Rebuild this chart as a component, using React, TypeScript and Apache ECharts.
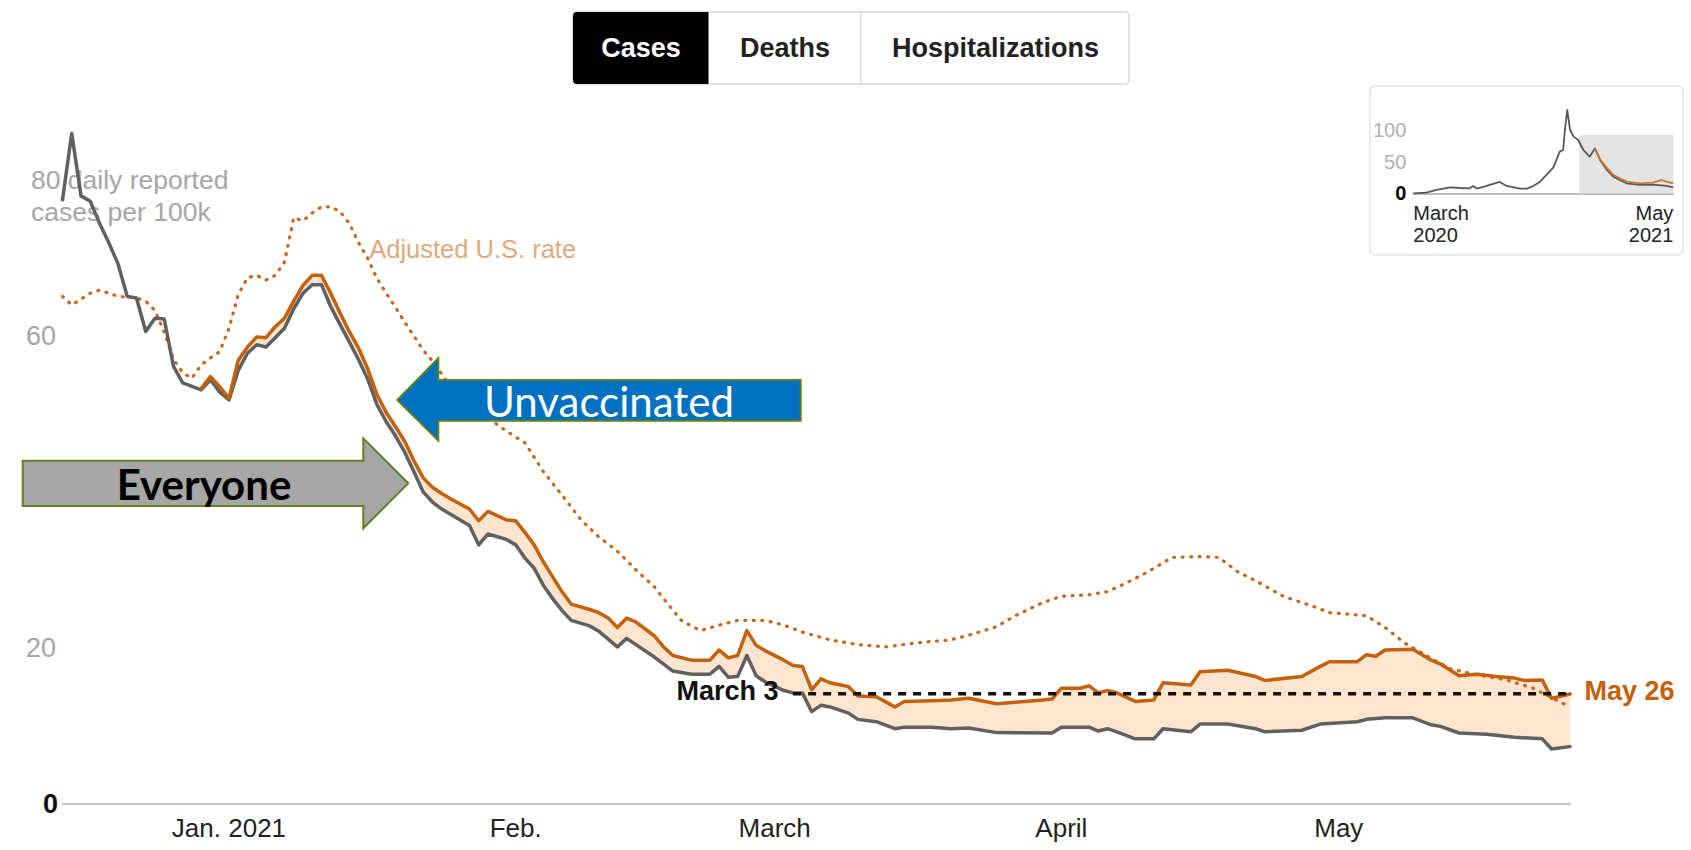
import React, { useEffect, useRef } from 'react';
import * as echarts from 'echarts';

// ---------- data ----------
const START = '2020-12-14';
const END = '2021-05-26';
const INSET_START = '2020-03-01';
const INSET_END = '2021-05-26';

const monthTicks = ['2021-01-01', '2021-02-01', '2021-03-01', '2021-04-01', '2021-05-01'];
const monthLabels = ['Jan. 2021', 'Feb.', 'March', 'April', 'May'];
const yTicks = [0, 20, 40, 60, 80];
const insetYTicks = [0, 50, 100];
const insetXLabels = ['March\n2020', 'May\n2021'];

// "Everyone" (all residents) daily reported cases per 100k
const everyone: [string, number][] = [
  ['2020-12-14', 77.5], ['2020-12-15', 86], ['2020-12-16', 78], ['2020-12-17', 77.3],
  ['2020-12-18', 74.5], ['2020-12-19', 72], ['2020-12-20', 69.3], ['2020-12-21', 65.1],
  ['2020-12-22', 64.9], ['2020-12-23', 60.6], ['2020-12-24', 62.3], ['2020-12-25', 62.2],
  ['2020-12-26', 56.1], ['2020-12-27', 54], ['2020-12-29', 53.1], ['2020-12-30', 54.4],
  ['2020-12-31', 52.8], ['2021-01-01', 51.8], ['2021-01-02', 55.6], ['2021-01-03', 57.8],
  ['2021-01-04', 58.9], ['2021-01-05', 58.6], ['2021-01-06', 59.8], ['2021-01-07', 61],
  ['2021-01-08', 63.5], ['2021-01-09', 65.5], ['2021-01-10', 66.6], ['2021-01-11', 66.6],
  ['2021-01-12', 63.8], ['2021-01-13', 61.5], ['2021-01-14', 59.3], ['2021-01-15', 57],
  ['2021-01-16', 54.5], ['2021-01-17', 51.2], ['2021-01-18', 49], ['2021-01-19', 47.2],
  ['2021-01-20', 45.1], ['2021-01-21', 42.6], ['2021-01-22', 40], ['2021-01-23', 38.7],
  ['2021-01-24', 37.8], ['2021-01-25', 37.1], ['2021-01-27', 35.7], ['2021-01-28', 33.2],
  ['2021-01-29', 34.6], ['2021-01-31', 33.9], ['2021-02-01', 33.2], ['2021-02-02', 31.5],
  ['2021-02-03', 30.2], ['2021-02-04', 28], ['2021-02-05', 26.3], ['2021-02-06', 24.8],
  ['2021-02-07', 23.5], ['2021-02-09', 22.8], ['2021-02-10', 22.1], ['2021-02-11', 21.1],
  ['2021-02-12', 20.1], ['2021-02-13', 21.2], ['2021-02-14', 20.4], ['2021-02-16', 18.8],
  ['2021-02-17', 17.9], ['2021-02-18', 17], ['2021-02-20', 16.6], ['2021-02-22', 16.6],
  ['2021-02-23', 17.6], ['2021-02-24', 16.2], ['2021-02-25', 16.3], ['2021-02-26', 19],
  ['2021-02-27', 16.4], ['2021-02-28', 15.6], ['2021-03-02', 14.5], ['2021-03-03', 14.2],
  ['2021-03-04', 14.2], ['2021-03-05', 11.8], ['2021-03-06', 12.6], ['2021-03-07', 12.4],
  ['2021-03-09', 11.6], ['2021-03-10', 10.8], ['2021-03-12', 10.5], ['2021-03-14', 9.6],
  ['2021-03-15', 9.8], ['2021-03-18', 9.8], ['2021-03-20', 9.6], ['2021-03-22', 9.7],
  ['2021-03-25', 9.1], ['2021-03-31', 9.05], ['2021-04-01', 9.8], ['2021-04-04', 9.8],
  ['2021-04-05', 9.3], ['2021-04-06', 9.6], ['2021-04-07', 9.2], ['2021-04-09', 8.3],
  ['2021-04-11', 8.3], ['2021-04-12', 9.6], ['2021-04-15', 9.2], ['2021-04-16', 10.2],
  ['2021-04-19', 10.2], ['2021-04-22', 9.6], ['2021-04-23', 9.2], ['2021-04-27', 9.4],
  ['2021-04-29', 10.2], ['2021-05-03', 10.5], ['2021-05-04', 10.8], ['2021-05-06', 11],
  ['2021-05-09', 11], ['2021-05-11', 10.1], ['2021-05-12', 9.9], ['2021-05-14', 9.05],
  ['2021-05-17', 8.9], ['2021-05-20', 8.5], ['2021-05-23', 8.3], ['2021-05-24', 7],
  ['2021-05-26', 7.3],
];

// Unvaccinated residents
const unvaccinated: [string, number][] = [
  ['2020-12-29', 53.3], ['2020-12-30', 54.8], ['2020-12-31', 53.5], ['2021-01-01', 52],
  ['2021-01-02', 56.9], ['2021-01-03', 58.6], ['2021-01-04', 59.9], ['2021-01-05', 59.8],
  ['2021-01-06', 61.2], ['2021-01-07', 62.3], ['2021-01-08', 64.5], ['2021-01-09', 66.5],
  ['2021-01-10', 67.8], ['2021-01-11', 67.8], ['2021-01-12', 65.5], ['2021-01-13', 63],
  ['2021-01-14', 60.6], ['2021-01-15', 58.5], ['2021-01-16', 55.8], ['2021-01-17', 52.5],
  ['2021-01-18', 50.2], ['2021-01-19', 48.4], ['2021-01-20', 46.5], ['2021-01-21', 44],
  ['2021-01-22', 41.8], ['2021-01-23', 40.6], ['2021-01-24', 39.8], ['2021-01-25', 39.1],
  ['2021-01-27', 37.8], ['2021-01-28', 36.3], ['2021-01-29', 37.5], ['2021-01-31', 36.4],
  ['2021-02-01', 36.3], ['2021-02-02', 34.8], ['2021-02-03', 33.2], ['2021-02-04', 31],
  ['2021-02-05', 29.1], ['2021-02-06', 27.2], ['2021-02-07', 25.6], ['2021-02-09', 24.9],
  ['2021-02-10', 24.5], ['2021-02-11', 23.8], ['2021-02-12', 22.6], ['2021-02-13', 23.8],
  ['2021-02-14', 23.3], ['2021-02-16', 21.5], ['2021-02-17', 20.1], ['2021-02-18', 19],
  ['2021-02-20', 18.4], ['2021-02-22', 18.4], ['2021-02-23', 19.7], ['2021-02-24', 18.7],
  ['2021-02-25', 19], ['2021-02-26', 22.2], ['2021-02-27', 20.3], ['2021-02-28', 19.6],
  ['2021-03-02', 18.4], ['2021-03-03', 17.7], ['2021-03-04', 17.6], ['2021-03-05', 14.6],
  ['2021-03-06', 16], ['2021-03-07', 15.5], ['2021-03-09', 15], ['2021-03-10', 13.8],
  ['2021-03-12', 13.7], ['2021-03-14', 12.4], ['2021-03-15', 13.1], ['2021-03-18', 13.2],
  ['2021-03-20', 13.3], ['2021-03-22', 13.5], ['2021-03-25', 12.8], ['2021-03-28', 13.1],
  ['2021-03-30', 13.3], ['2021-03-31', 13.4], ['2021-04-01', 14.8], ['2021-04-03', 14.8],
  ['2021-04-04', 15.1], ['2021-04-05', 14.2], ['2021-04-06', 14.5], ['2021-04-07', 14.2],
  ['2021-04-09', 13.1], ['2021-04-11', 13.3], ['2021-04-12', 15.5], ['2021-04-15', 15.2],
  ['2021-04-16', 16.9], ['2021-04-19', 17.1], ['2021-04-22', 16.3], ['2021-04-23', 15.8],
  ['2021-04-27', 16.3], ['2021-04-29', 17.6], ['2021-04-30', 18.2], ['2021-05-03', 18.2],
  ['2021-05-04', 19.1], ['2021-05-05', 18.9], ['2021-05-06', 19.7], ['2021-05-09', 19.8],
  ['2021-05-11', 18.4], ['2021-05-12', 17.9], ['2021-05-14', 16.4], ['2021-05-16', 16.6],
  ['2021-05-18', 16.3], ['2021-05-20', 16.1], ['2021-05-21', 15.8], ['2021-05-23', 15.85],
  ['2021-05-24', 13.5], ['2021-05-26', 14.05],
];

// Adjusted U.S. rate (dotted)
const adjustedUS: [string, number][] = [
  ['2020-12-14', 65.1], ['2020-12-15', 64], ['2020-12-17', 65.5], ['2020-12-18', 65.9],
  ['2020-12-20', 65.1], ['2020-12-22', 64.9], ['2020-12-23', 64.5], ['2020-12-24', 63.3],
  ['2020-12-25', 60.5], ['2020-12-26', 57], ['2020-12-27', 55.3], ['2020-12-28', 54.6],
  ['2020-12-29', 56.3], ['2020-12-30', 57.2], ['2020-12-31', 58], ['2021-01-01', 61],
  ['2021-01-02', 65.3], ['2021-01-03', 67.5], ['2021-01-04', 67.8], ['2021-01-05', 67.2],
  ['2021-01-06', 67.8], ['2021-01-07', 69.5], ['2021-01-08', 75.2], ['2021-01-09', 74.8],
  ['2021-01-10', 75.8], ['2021-01-11', 76.6], ['2021-01-12', 76.6], ['2021-01-13', 76],
  ['2021-01-14', 74.5], ['2021-01-15', 72], ['2021-01-16', 70], ['2021-01-17', 67.4],
  ['2021-01-18', 65.5], ['2021-01-19', 63.7], ['2021-01-20', 61.8], ['2021-01-21', 60],
  ['2021-01-22', 58.2], ['2021-01-23', 56.8], ['2021-01-25', 53.5], ['2021-01-27', 51],
  ['2021-01-29', 49.5], ['2021-01-31', 47.8], ['2021-02-02', 46.3], ['2021-02-04', 42.6],
  ['2021-02-06', 39.6], ['2021-02-08', 36.5], ['2021-02-10', 34.2], ['2021-02-12', 32.4],
  ['2021-02-14', 30], ['2021-02-16', 27.8], ['2021-02-17', 26.3], ['2021-02-18', 24.8],
  ['2021-02-19', 23.4], ['2021-02-21', 22.2], ['2021-02-23', 22.9], ['2021-02-25', 23.5],
  ['2021-02-28', 23.5], ['2021-03-02', 22.9], ['2021-03-04', 22], ['2021-03-07', 21],
  ['2021-03-10', 20.4], ['2021-03-13', 20.1], ['2021-03-15', 20.4], ['2021-03-17', 20.7],
  ['2021-03-20', 21], ['2021-03-22', 21.6], ['2021-03-25', 22.7], ['2021-03-27', 24.1],
  ['2021-03-30', 25.8], ['2021-04-01', 26.6], ['2021-04-04', 26.8], ['2021-04-06', 27.2],
  ['2021-04-08', 28.3], ['2021-04-10', 29.5], ['2021-04-13', 31.6], ['2021-04-16', 31.7],
  ['2021-04-18', 31.6], ['2021-04-20', 29.8], ['2021-04-22', 28.6], ['2021-04-25', 26.6],
  ['2021-04-28', 25.4], ['2021-04-30', 24.5], ['2021-05-03', 24.2], ['2021-05-04', 24.1],
  ['2021-05-06', 22.6], ['2021-05-08', 20.7], ['2021-05-10', 19.3], ['2021-05-13', 17.3],
  ['2021-05-16', 16.5], ['2021-05-19', 15.9], ['2021-05-22', 14.8], ['2021-05-26', 12.4],
];
const ADJ_LABEL_DATE = '2021-01-16';

// Reference level: overall rate on March 3 == unvaccinated rate on May 26
const DASH_FROM = '2021-03-03';
const dashLevel = 14.1;

// Inset: whole pandemic overview
const insetAll: [string, number][] = [
  ['2020-03-01', 0], ['2020-03-24', 1], ['2020-04-10', 5.3], ['2020-05-04', 9.5],
  ['2020-05-21', 8.4], ['2020-06-07', 7.9], ['2020-06-13', 11.6], ['2020-06-19', 7.4],
  ['2020-07-06', 11.6], ['2020-07-29', 17.9], ['2020-08-10', 11.6], ['2020-09-02', 7.4],
  ['2020-09-14', 7.4], ['2020-09-25', 11.6], ['2020-10-07', 18.4], ['2020-10-18', 29],
  ['2020-10-30', 41], ['2020-11-10', 65.8], ['2020-11-16', 68.4], ['2020-11-19', 100],
  ['2020-11-23', 131.6], ['2020-11-28', 100], ['2020-12-04', 89.5], ['2020-12-12', 84.2],
  ['2020-12-21', 68.4], ['2021-01-01', 57.9], ['2021-01-10', 71], ['2021-01-19', 52.6],
  ['2021-01-30', 37.9], ['2021-02-11', 26.3], ['2021-02-22', 21], ['2021-03-06', 15.8],
  ['2021-03-29', 13.2], ['2021-04-21', 13.7], ['2021-05-14', 11.6], ['2021-05-26', 9.5],
];
const insetUnvax: [string, number][] = [
  ['2021-01-10', 71.5], ['2021-01-19', 53.7], ['2021-01-30', 41], ['2021-02-11', 29],
  ['2021-02-22', 23.7], ['2021-03-06', 18.4], ['2021-03-29', 15.8], ['2021-04-21', 16.8],
  ['2021-05-05', 21], ['2021-05-14', 18.4], ['2021-05-26', 15.8],
];
const insetHighlight = { from: '2020-12-14', to: '2021-05-26', top: 92 };

// ---------- helpers ----------
const MS_DAY = 86400000;
const day = (d: string) => (Date.parse(d) - Date.parse(START)) / MS_DAY;
const iday = (d: string) => (Date.parse(d) - Date.parse(INSET_START)) / MS_DAY;

const FONT = "'Liberation Sans', Arial, sans-serif";
const ORANGE = '#c5600c';
const GRAY_LINE = '#606060';
const BAND = '#fde5cf';
const ARROW_STROKE = '#61801f';

export default function App() {
  const ref = useRef<HTMLDivElement>(null);

  useEffect(() => {
    if (!ref.current) return;
    const chart = echarts.init(ref.current, null, { renderer: 'svg' });

    const tickDays = monthTicks.map(day);
    const bandStart = unvaccinated[0][0];
    const bandEnd = unvaccinated[unvaccinated.length - 1][0];

    const option: any = {
      animation: false,
      backgroundColor: '#ffffff',
      textStyle: { fontFamily: FONT },
      grid: [
        { left: 62.5, right: 121, top: 24.5, bottom: 46.5 },
        { left: 1413.3, right: 17.7, top: 130, bottom: 656.7 },
      ],
      xAxis: [
        {
          type: 'value',
          gridIndex: 0,
          min: 0,
          max: day(END),
          splitLine: { show: false },
          axisTick: { show: false },
          axisLine: { show: true, lineStyle: { color: '#c4c4c4', width: 2 } },
          axisLabel: {
            customValues: tickDays,
            formatter: (v: number) => {
              const i = tickDays.findIndex((t) => Math.abs(t - v) < 0.01);
              return i >= 0 ? monthLabels[i] : '';
            },
            color: '#222',
            fontSize: 26,
            fontFamily: FONT,
            margin: 11,
          },
        },
        {
          type: 'value',
          gridIndex: 1,
          min: 0,
          max: iday(INSET_END),
          splitLine: { show: false },
          axisTick: { show: false },
          axisLine: { show: true, lineStyle: { color: '#a8a8a8', width: 1.5 } },
          axisLabel: {
            customValues: [0, iday(INSET_END)],
            formatter: (v: number) => (v === 0 ? insetXLabels[0] : insetXLabels[1]),
            alignMinLabel: 'left',
            alignMaxLabel: 'right',
            color: '#222',
            fontSize: 20,
            lineHeight: 22.5,
            fontFamily: FONT,
            margin: 8,
          },
        },
      ],
      yAxis: [
        {
          type: 'value',
          gridIndex: 0,
          min: 0,
          max: 100,
          splitLine: { show: false },
          axisTick: { show: false },
          axisLine: { show: false },
          axisLabel: {
            customValues: yTicks,
            align: 'left',
            margin: 36.5,
            formatter: (v: number) => {
              if (v === 0) return '{z|0}';
              if (v === 80) return '{s| }\n{t|80 daily reported}\n{t|cases per 100k}';
              return '{n|' + v + '}';
            },
            rich: {
              z: { fontSize: 27, fontWeight: 'bold', color: '#111', padding: [0, 0, 0, 17], fontFamily: FONT },
              n: { fontSize: 27, color: '#a6a6a6', fontFamily: FONT },
              s: { fontSize: 27, lineHeight: 31.5, fontFamily: FONT },
              t: { fontSize: 26.5, lineHeight: 31.5, color: '#a6a6a6', padding: [0, 0, 0, 5], fontFamily: FONT },
            },
          },
        },
        {
          type: 'value',
          gridIndex: 1,
          min: 0,
          max: 100,
          splitLine: { show: false },
          axisTick: { show: false },
          axisLine: { show: false },
          axisLabel: {
            customValues: insetYTicks,
            margin: 7,
            formatter: (v: number) => (v === 0 ? '{z|0}' : '{n|' + v + '}'),
            rich: {
              z: { fontSize: 20, fontWeight: 'bold', color: '#000', fontFamily: FONT },
              n: { fontSize: 20, color: '#b0b0b0', fontFamily: FONT },
            },
          },
        },
      ],
      series: [
        {
          type: 'custom',
          name: 'gap',
          xAxisIndex: 0,
          yAxisIndex: 0,
          silent: true,
          z: 1,
          data: [[day(bandStart), unvaccinated[0][1]]],
          renderItem: (_params: any, api: any) => {
            const top = unvaccinated.map(([d, v]) => api.coord([day(d), v]));
            const bottom = everyone
              .filter(([d]) => d >= bandStart && d <= bandEnd)
              .map(([d, v]) => api.coord([day(d), v]))
              .reverse();
            return {
              type: 'polygon',
              shape: { points: [...top, ...bottom] },
              style: { fill: BAND },
            };
          },
        },
        {
          type: 'line',
          name: 'Adjusted U.S. rate',
          xAxisIndex: 0,
          yAxisIndex: 0,
          z: 2,
          symbol: 'none',
          clip: false,
          lineStyle: { color: '#c8681e', width: 3.2, type: [1, 7.5], cap: 'round', join: 'round' },
          data: adjustedUS.map(([d, v]) =>
            d === ADJ_LABEL_DATE
              ? {
                  value: [day(d), v],
                  symbol: 'circle',
                  symbolSize: 1,
                  itemStyle: { color: '#c8681e' },
                  label: {
                    show: true,
                    position: 'right',
                    distance: 1,
                    offset: [0, -9],
                    formatter: 'Adjusted U.S. rate',
                    color: '#e0a97c',
                    fontSize: 25.5,
                    fontFamily: FONT,
                  },
                }
              : [day(d), v]
          ),
        },
        {
          type: 'line',
          name: 'Everyone',
          xAxisIndex: 0,
          yAxisIndex: 0,
          z: 3,
          symbol: 'none',
          clip: false,
          lineStyle: { color: GRAY_LINE, width: 3.5, join: 'round', cap: 'round' },
          data: everyone.map(([d, v]) => [day(d), v]),
        },
        {
          type: 'line',
          name: 'Unvaccinated',
          xAxisIndex: 0,
          yAxisIndex: 0,
          z: 4,
          symbol: 'none',
          clip: false,
          lineStyle: { color: ORANGE, width: 3.5, join: 'round', cap: 'round' },
          data: unvaccinated.map(([d, v]) => [day(d), v]),
        },
        {
          type: 'line',
          name: 'level',
          xAxisIndex: 0,
          yAxisIndex: 0,
          z: 5,
          symbol: 'circle',
          symbolSize: 1,
          itemStyle: { color: '#111' },
          lineStyle: { color: '#111', width: 3.5, type: [8, 7] },
          data: [
            {
              value: [day(DASH_FROM), dashLevel],
              label: {
                show: true,
                position: 'left',
                distance: 14,
                offset: [0, -2.5],
                formatter: 'March 3',
                color: '#111',
                fontWeight: 'bold',
                fontSize: 27,
                fontFamily: FONT,
              },
            },
            {
              value: [day(END), dashLevel],
              label: {
                show: true,
                position: 'right',
                distance: 14,
                offset: [0, -2.5],
                formatter: 'May 26',
                color: ORANGE,
                fontWeight: 'bold',
                fontSize: 27,
                fontFamily: FONT,
              },
            },
          ],
        },
        {
          type: 'line',
          name: 'inset all',
          xAxisIndex: 1,
          yAxisIndex: 1,
          symbol: 'none',
          clip: false,
          z: 3,
          lineStyle: { color: '#585858', width: 1.8, join: 'round' },
          data: insetAll.map(([d, v]) => [iday(d), v]),
          markArea: {
            silent: true,
            itemStyle: { color: '#e3e3e3' },
            data: [
              [
                { xAxis: iday(insetHighlight.from), yAxis: 0 },
                { xAxis: iday(insetHighlight.to), yAxis: insetHighlight.top },
              ],
            ],
          },
        },
        {
          type: 'line',
          name: 'inset unvaccinated',
          xAxisIndex: 1,
          yAxisIndex: 1,
          symbol: 'none',
          clip: false,
          z: 4,
          lineStyle: { color: '#d0742a', width: 1.8, join: 'round' },
          data: insetUnvax.map(([d, v]) => [iday(d), v]),
        },
      ],
      graphic: [
        // inset frame
        {
          type: 'rect',
          z: -1,
          silent: true,
          shape: { x: 1370, y: 86, width: 313, height: 169, r: 5 },
          style: { fill: 'transparent', stroke: '#e4e4e4', lineWidth: 1.5 },
        },
        // toggle buttons
        {
          type: 'rect',
          z: 50,
          shape: { x: 573, y: 12, width: 556, height: 72, r: 4 },
          style: { fill: '#ffffff', stroke: '#d6d6d6', lineWidth: 1.5 },
        },
        {
          type: 'rect',
          z: 51,
          shape: { x: 573, y: 12, width: 135.5, height: 72, r: [4, 0, 0, 4] },
          style: { fill: '#000000' },
        },
        {
          type: 'line',
          z: 51,
          shape: { x1: 860.7, y1: 12.7, x2: 860.7, y2: 83.3 },
          style: { stroke: '#d6d6d6', lineWidth: 1.5 },
        },
        {
          type: 'text',
          z: 52,
          x: 641,
          y: 47.5,
          style: {
            text: 'Cases', fill: '#ffffff', fontSize: 27, fontWeight: 'bold', fontFamily: FONT,
            align: 'center', verticalAlign: 'middle', textAlign: 'center', textVerticalAlign: 'middle',
          },
        },
        {
          type: 'text',
          z: 52,
          x: 785,
          y: 47.5,
          style: {
            text: 'Deaths', fill: '#222222', fontSize: 27, fontWeight: 'bold', fontFamily: FONT,
            align: 'center', verticalAlign: 'middle', textAlign: 'center', textVerticalAlign: 'middle',
          },
        },
        {
          type: 'text',
          z: 52,
          x: 995.6,
          y: 47.5,
          style: {
            text: 'Hospitalizations', fill: '#222222', fontSize: 27, fontWeight: 'bold', fontFamily: FONT,
            align: 'center', verticalAlign: 'middle', textAlign: 'center', textVerticalAlign: 'middle',
          },
        },
        // "Everyone" arrow
        {
          type: 'polygon',
          z: 100,
          shape: {
            points: [
              [22.7, 460.7], [363.3, 460.7], [363.3, 438.3], [408.3, 483.3],
              [363.3, 528.3], [363.3, 506], [22.7, 506],
            ],
          },
          style: { fill: '#a6a6a6', stroke: ARROW_STROKE, lineWidth: 2 },
        },
        {
          type: 'text',
          z: 101,
          x: 204,
          y: 484,
          style: {
            text: 'Everyone', fill: '#000000', fontSize: 42, fontWeight: 'bold', fontFamily: 'Lato, sans-serif',
            align: 'center', verticalAlign: 'middle', textAlign: 'center', textVerticalAlign: 'middle',
          },
        },
        // "Unvaccinated" arrow
        {
          type: 'polygon',
          z: 100,
          shape: {
            points: [
              [397.3, 400], [438.3, 358.3], [438.3, 380], [800.7, 380],
              [800.7, 420.7], [438.3, 420.7], [438.3, 440.7],
            ],
          },
          style: { fill: '#0070c0', stroke: ARROW_STROKE, lineWidth: 2 },
        },
        {
          type: 'text',
          z: 101,
          x: 609,
          y: 401,
          style: {
            text: 'Unvaccinated', fill: '#ffffff', fontSize: 42, fontFamily: 'Lato, sans-serif',
            align: 'center', verticalAlign: 'middle', textAlign: 'center', textVerticalAlign: 'middle',
          },
        },
      ],
    };

    chart.setOption(option);
    return () => {
      chart.dispose();
    };
  }, []);

  return (
    <div
      ref={ref}
      style={{ position: 'fixed', left: 0, top: 0, width: 1691, height: 850, background: '#fff' }}
    />
  );
}
